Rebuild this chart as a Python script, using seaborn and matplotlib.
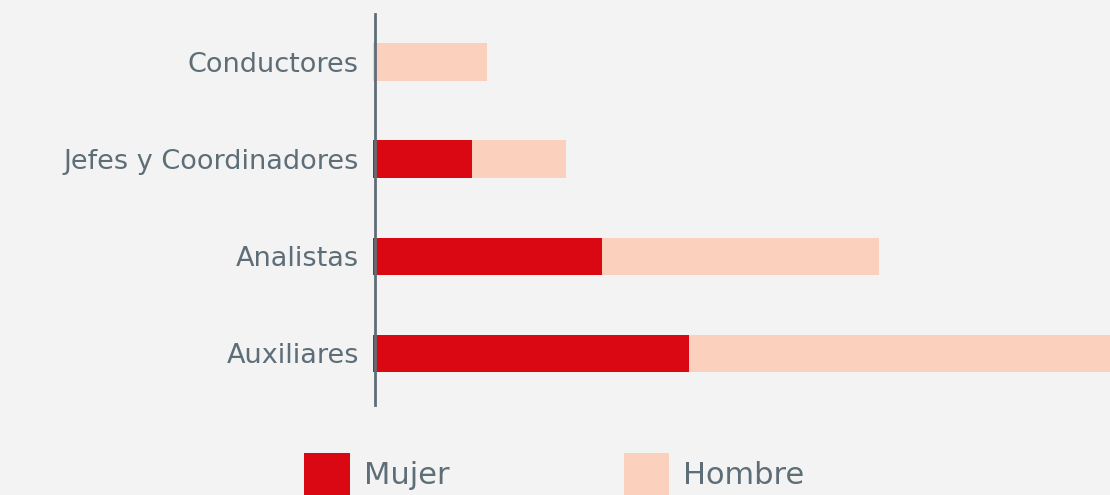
import matplotlib
matplotlib.use("Agg")
import matplotlib.pyplot as plt
import seaborn as sns
import pandas as pd
from matplotlib.patches import Patch

categories = ["Conductores", "Jefes y Coordinadores", "Analistas", "Auxiliares"]
mujer = [0, 9.9, 22.9, 31.6]
hombre = [11.4, 9.4, 27.7, 42.6]
legend_labels = ["Mujer", "Hombre"]

c_mujer = "#d90812"
c_hombre = "#fbd0bd"
c_text = "#5e6e78"
bg = "#f3f3f3"

sns.set_theme(style="white")
plt.rcParams["font.family"] = ["DejaVu Sans"]

df = pd.DataFrame({"cat": categories, "mujer": mujer, "hombre": hombre})
df["total"] = df["mujer"] + df["hombre"]

fig = plt.figure(figsize=(11.1, 4.95), dpi=100, facecolor=bg)
ax = fig.add_axes([0.336, 0.182, 0.664, 0.79])
ax.set_facecolor(bg)

sns.barplot(data=df, x="total", y="cat", color=c_hombre, width=0.39,
            saturation=1, orient="h", ax=ax, linewidth=0)
sns.barplot(data=df, x="mujer", y="cat", color=c_mujer, width=0.39,
            saturation=1, orient="h", ax=ax, linewidth=0)

ax.set_xlim(-0.05, 73.65)
ax.set_ylim(3.53, -0.50)
ax.set_xlabel("")
ax.set_ylabel("")
ax.set_xticks([])
for s in ["top", "right", "bottom"]:
    ax.spines[s].set_visible(False)
ax.spines["left"].set_color(c_text)
ax.spines["left"].set_linewidth(2)
ax.spines["left"].set_position(("data", 0.2))
ax.tick_params(axis="y", length=0, pad=12, labelsize=19.5, labelcolor=c_text)

handles = [Patch(facecolor=c_mujer, edgecolor="none"),
           Patch(facecolor=c_hombre, edgecolor="none")]
leg = fig.legend(handles, legend_labels, loc="lower left",
                 bbox_to_anchor=(0.252, -0.053), ncol=2, frameon=False,
                 fontsize=22, handlelength=1.5, handleheight=1.85,
                 handletextpad=0.45, columnspacing=5.7, borderpad=0.3)
for t in leg.get_texts():
    t.set_color(c_text)

fig.savefig("out.png", dpi=100, facecolor=bg)
